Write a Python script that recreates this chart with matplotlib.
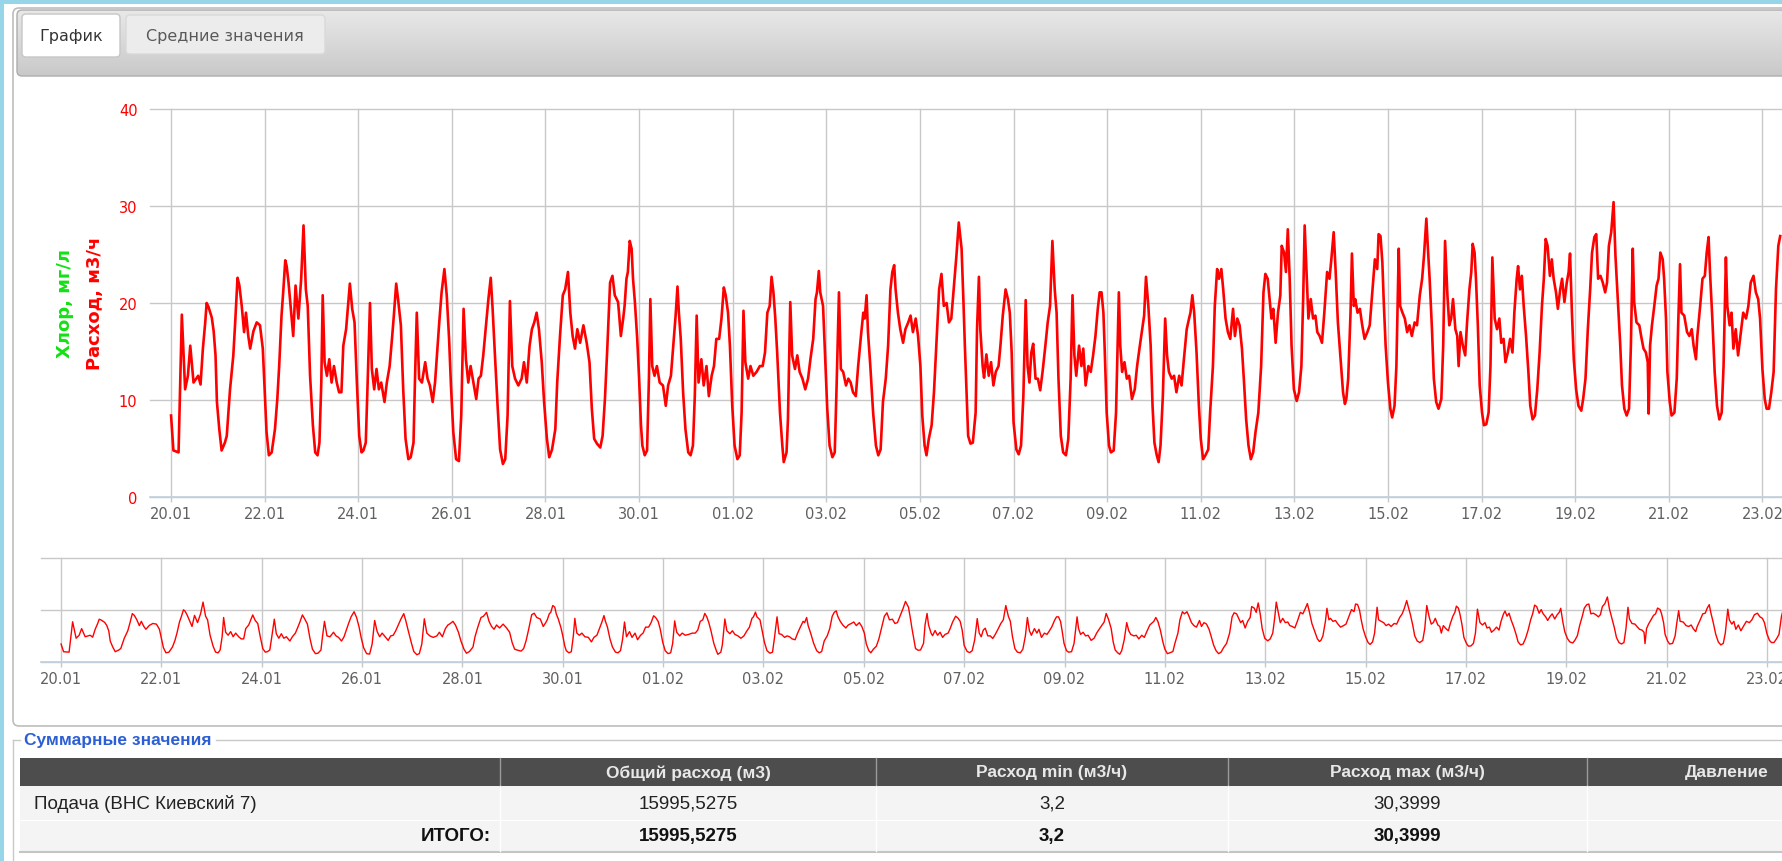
import matplotlib.pyplot as plt
import matplotlib.patches as mpatches
from matplotlib.colors import LinearSegmentedColormap
import numpy as np

# (days since 20.01 00:00, flow m3/h)
part_1 = [(0.00, 8.4), (0.05, 4.8), (0.16, 4.6), (0.23, 18.8), (0.30, 11.1), (0.36, 12.5), (0.41, 15.6),
          (0.48, 11.8), (0.58, 12.5), (0.63, 11.6), (0.68, 15.3), (0.73, 18.0), (0.76, 20.0), (0.80, 19.6),
          (0.87, 18.5), (0.91, 17.1), (0.95, 14.6), (0.98, 9.8), (1.03, 7.0), (1.08, 4.8), (1.15, 5.6),
          (1.19, 6.3), (1.26, 11.1), (1.33, 14.6), (1.37, 18.0), (1.42, 22.6), (1.46, 21.8), (1.51, 19.7),
          (1.56, 17.0), (1.60, 19.0), (1.65, 16.6), (1.69, 15.3), (1.76, 17.1), (1.83, 18.0), (1.90, 17.7),
          (1.96, 15.3), (2.01, 9.8), (2.04, 6.7), (2.09, 4.3), (2.15, 4.6), (2.22, 7.0), (2.27, 10.1),
          (2.31, 13.5), (2.36, 18.7), (2.40, 21.4), (2.44, 24.4), (2.47, 23.8), (2.51, 22.1), (2.56, 19.4),
          (2.61, 16.6), (2.66, 21.8), (2.72, 18.4), (2.78, 22.5), (2.83, 28.0), (2.88, 21.4), (2.92, 19.7),
          (2.97, 12.5), (3.03, 7.4), (3.08, 4.6), (3.13, 4.3), (3.17, 5.6), (3.21, 11.8), (3.24, 20.8),
          (3.28, 13.9), (3.33, 12.5), (3.38, 14.2), (3.43, 11.8), (3.48, 13.5), (3.54, 11.8), (3.59, 10.8),
          (3.64, 10.8), (3.68, 15.6), (3.74, 17.3), (3.78, 19.7), (3.82, 22.0), (3.87, 19.4), (3.92, 18.0),
          (3.97, 11.8), (4.02, 6.3), (4.07, 4.6), (4.11, 4.8), (4.16, 5.6), (4.20, 11.8), (4.25, 20.0),
          (4.29, 13.2), (4.34, 11.1), (4.39, 13.2), (4.44, 11.1), (4.49, 11.8), (4.56, 9.8), (4.61, 11.8),
          (4.67, 13.5), (4.72, 16.3), (4.76, 18.7), (4.81, 22.0), (4.85, 20.4), (4.91, 17.7), (4.96, 11.1)]

part_2 = [(5.01, 6.0), (5.07, 3.9), (5.12, 4.1), (5.18, 5.6), (5.21, 11.8), (5.25, 19.0), (5.30, 12.2),
          (5.36, 11.8), (5.43, 13.9), (5.48, 12.2), (5.53, 11.5), (5.59, 9.8), (5.64, 11.8), (5.69, 15.3),
          (5.73, 18.0), (5.78, 21.1), (5.84, 23.5), (5.89, 20.8), (5.94, 16.3), (5.98, 11.5), (6.03, 6.7),
          (6.09, 3.9), (6.15, 3.7), (6.20, 8.4), (6.25, 19.4), (6.30, 14.2), (6.35, 11.8), (6.40, 13.5),
          (6.46, 11.8), (6.52, 10.1), (6.57, 12.2), (6.62, 12.5), (6.67, 14.6), (6.73, 17.7), (6.78, 20.4),
          (6.83, 22.6), (6.87, 19.4), (6.92, 14.6), (6.98, 9.1), (7.03, 4.9), (7.09, 3.4), (7.14, 3.9),
          (7.19, 8.4), (7.24, 20.2), (7.29, 13.5), (7.35, 12.2), (7.42, 11.5), (7.49, 12.2), (7.54, 13.9),
          (7.60, 11.8), (7.66, 15.6), (7.71, 17.3), (7.76, 18.0), (7.81, 19.0), (7.86, 17.3), (7.92, 13.9),
          (7.97, 9.8), (8.03, 6.0), (8.08, 4.1), (8.14, 4.9), (8.21, 7.0), (8.25, 11.8), (8.31, 16.6),
          (8.37, 20.8), (8.42, 21.4), (8.48, 23.2), (8.53, 19.0), (8.58, 16.6), (8.63, 15.3), (8.68, 17.3),
          (8.74, 15.9), (8.81, 17.7), (8.88, 15.9), (8.94, 13.9), (8.99, 9.1), (9.04, 6.0), (9.10, 5.5),
          (9.17, 5.1), (9.22, 6.3), (9.27, 10.1), (9.32, 15.3), (9.38, 22.1), (9.43, 22.8), (9.48, 20.8),
          (9.55, 20.1), (9.57, 19.0), (9.61, 16.6), (9.66, 18.4), (9.69, 19.7), (9.73, 22.5), (9.76, 23.2),
          (9.80, 26.4), (9.84, 25.6), (9.87, 22.5), (9.91, 20.1), (9.96, 16.3)]

part_3 = [(10.00, 12.2), (10.04, 7.4), (10.07, 5.3), (10.12, 4.3), (10.17, 4.8), (10.21, 12.2), (10.24, 20.4),
          (10.28, 13.5), (10.33, 12.5), (10.38, 13.5), (10.44, 11.8), (10.51, 11.5), (10.57, 9.4), (10.62, 11.5),
          (10.68, 12.5), (10.73, 15.6), (10.78, 18.7), (10.82, 21.7), (10.85, 19.0), (10.89, 16.3), (10.94, 10.8),
          (10.99, 7.0), (11.05, 4.6), (11.10, 4.3), (11.15, 5.3), (11.19, 10.4), (11.23, 18.7), (11.27, 11.8),
          (11.33, 14.2), (11.38, 11.5), (11.44, 13.5), (11.49, 10.4), (11.55, 12.5), (11.60, 13.5), (11.65, 16.3),
          (11.71, 16.3), (11.76, 18.4), (11.81, 21.6), (11.85, 20.8), (11.90, 19.0), (11.94, 15.6), (11.99, 9.4),
          (12.04, 5.3), (12.10, 3.9), (12.15, 4.3), (12.19, 8.7), (12.23, 19.2), (12.27, 13.9), (12.33, 12.2),
          (12.38, 13.5), (12.44, 12.5), (12.51, 12.9), (12.58, 13.5), (12.64, 13.5), (12.69, 14.9), (12.74, 19.0),
          (12.79, 19.7), (12.83, 22.7), (12.87, 21.1), (12.91, 18.4), (12.95, 14.9), (13.01, 8.7), (13.06, 5.3),
          (13.09, 3.6), (13.15, 4.6), (13.18, 8.0), (13.23, 20.1), (13.27, 14.6), (13.33, 13.2), (13.38, 14.6),
          (13.43, 12.9), (13.49, 12.2), (13.55, 11.1), (13.61, 12.2), (13.66, 14.2), (13.72, 16.3), (13.77, 20.4),
          (13.80, 21.1), (13.84, 23.3), (13.87, 21.1), (13.93, 19.7), (13.98, 13.9), (14.02, 9.1), (14.07, 5.3),
          (14.13, 4.1), (14.18, 4.6), (14.22, 11.5), (14.27, 21.1), (14.31, 13.2), (14.36, 12.9), (14.42, 11.5),
          (14.47, 12.2), (14.52, 11.8), (14.57, 10.8), (14.63, 10.4), (14.68, 13.5), (14.74, 16.6), (14.79, 19.0),
          (14.82, 18.4), (14.86, 20.8), (14.89, 17.0), (14.94, 13.5)]

part_4 = [(15.00, 8.7), (15.06, 5.3), (15.11, 4.3), (15.16, 4.9), (15.21, 9.8), (15.27, 12.2), (15.32, 15.6),
          (15.37, 21.4), (15.41, 23.2), (15.45, 23.9), (15.48, 21.4), (15.53, 19.0), (15.58, 17.3), (15.64, 15.9),
          (15.69, 17.3), (15.75, 18.0), (15.80, 18.7), (15.85, 17.0), (15.91, 18.4), (15.96, 16.6), (16.01, 13.5),
          (16.05, 8.4), (16.10, 5.3), (16.14, 4.3), (16.19, 6.0), (16.25, 7.4), (16.30, 10.8), (16.35, 15.6),
          (16.41, 21.4), (16.46, 23.0), (16.51, 19.7), (16.57, 20.0), (16.62, 18.0), (16.67, 18.4), (16.72, 21.4),
          (16.78, 24.9), (16.83, 28.3), (16.89, 25.6), (16.93, 20.1), (16.96, 15.6), (17.00, 10.4), (17.03, 6.3),
          (17.08, 5.5), (17.13, 5.6), (17.19, 8.7), (17.22, 17.3), (17.26, 22.7), (17.29, 17.3), (17.34, 13.5),
          (17.37, 12.3), (17.42, 14.7), (17.47, 12.5), (17.52, 13.9), (17.57, 11.5), (17.62, 12.9), (17.68, 13.5),
          (17.72, 15.6), (17.77, 18.7), (17.83, 21.4), (17.88, 20.4), (17.92, 19.0), (17.96, 14.9), (18.00, 7.7),
          (18.06, 4.9), (18.11, 4.4), (18.16, 5.3), (18.21, 10.4), (18.26, 20.3), (18.30, 13.5), (18.34, 11.8),
          (18.38, 14.9), (18.42, 15.8), (18.47, 12.2), (18.52, 12.2), (18.57, 11.0), (18.62, 12.9), (18.68, 15.6),
          (18.73, 18.0), (18.78, 19.7), (18.83, 26.4), (18.88, 21.4), (18.92, 19.0), (18.96, 12.2), (19.01, 6.3),
          (19.06, 4.6), (19.12, 4.3), (19.17, 6.0), (19.22, 12.2), (19.26, 20.8), (19.30, 14.6), (19.34, 12.5),
          (19.40, 15.6), (19.45, 13.5), (19.49, 15.3), (19.54, 11.5), (19.60, 13.5), (19.65, 12.9), (19.70, 14.6),
          (19.75, 16.6), (19.80, 19.4), (19.84, 21.1), (19.88, 21.1), (19.92, 19.0), (19.95, 14.9)]

part_5 = [(19.99, 8.7), (20.04, 5.3), (20.08, 4.6), (20.14, 4.8), (20.19, 8.7), (20.25, 21.1), (20.28, 15.6),
          (20.32, 12.9), (20.37, 13.9), (20.42, 12.2), (20.47, 12.5), (20.53, 10.1), (20.59, 11.1), (20.64, 13.5),
          (20.69, 15.3), (20.74, 17.0), (20.79, 18.7), (20.83, 22.7), (20.88, 19.7), (20.93, 15.6), (20.97, 9.4),
          (21.01, 5.6), (21.06, 4.3), (21.10, 3.6), (21.14, 5.3), (21.19, 10.4), (21.24, 18.4), (21.28, 14.6),
          (21.32, 12.9), (21.38, 12.2), (21.43, 12.5), (21.48, 10.8), (21.54, 12.5), (21.59, 11.5), (21.64, 14.2),
          (21.70, 17.3), (21.75, 18.4), (21.78, 19.0), (21.82, 20.8), (21.86, 19.0), (21.91, 14.9), (21.96, 9.4),
          (22.00, 6.0), (22.05, 3.9), (22.10, 4.3), (22.16, 4.9), (22.20, 8.7), (22.26, 13.5), (22.30, 19.7),
          (22.35, 23.5), (22.39, 22.5), (22.44, 23.5), (22.48, 21.4), (22.53, 18.4), (22.58, 17.0), (22.63, 16.3),
          (22.69, 19.4), (22.73, 16.6), (22.78, 18.4), (22.83, 17.7), (22.88, 15.3), (22.92, 12.2), (22.97, 8.0),
          (23.02, 5.3), (23.07, 3.9), (23.12, 4.6), (23.17, 6.7), (23.23, 8.7), (23.29, 13.5), (23.34, 21.1),
          (23.38, 23.0), (23.43, 22.5), (23.47, 20.4), (23.51, 18.4), (23.55, 19.4), (23.60, 15.9), (23.65, 19.0),
          (23.70, 20.8), (23.73, 25.9), (23.78, 25.2), (23.82, 23.2), (23.86, 27.6), (23.90, 22.5), (23.94, 15.6),
          (23.99, 11.1), (24.05, 9.9), (24.10, 10.8), (24.15, 13.5), (24.19, 20.8), (24.22, 28.0), (24.26, 23.2),
          (24.30, 18.4), (24.35, 20.4), (24.40, 18.4), (24.45, 18.7), (24.49, 17.0), (24.54, 16.6), (24.59, 15.9),
          (24.64, 19.0), (24.70, 23.2), (24.75, 22.5), (24.79, 24.5), (24.84, 27.3), (24.88, 23.5), (24.93, 18.0)]

part_6 = [(25.00, 13.5), (25.04, 10.8), (25.08, 9.6), (25.11, 10.1), (25.15, 12.2), (25.20, 19.0), (25.23, 25.1),
          (25.27, 19.7), (25.30, 20.4), (25.35, 19.0), (25.40, 19.4), (25.45, 17.7), (25.50, 16.3), (25.56, 17.0),
          (25.61, 17.7), (25.66, 20.8), (25.72, 24.5), (25.77, 23.5), (25.80, 27.1), (25.84, 26.9), (25.88, 24.2),
          (25.91, 20.1), (25.95, 15.6), (26.00, 11.8), (26.05, 9.1), (26.09, 8.2), (26.14, 9.4), (26.18, 13.5),
          (26.23, 25.6), (26.26, 19.7), (26.31, 19.0), (26.36, 18.4), (26.41, 17.0), (26.46, 17.7), (26.51, 16.6),
          (26.57, 18.0), (26.62, 17.7), (26.68, 20.8), (26.73, 22.5), (26.77, 24.9), (26.82, 28.7), (26.85, 25.9),
          (26.89, 22.5), (26.94, 17.3), (26.98, 12.2), (27.03, 9.8), (27.08, 9.1), (27.14, 10.1), (27.18, 15.6),
          (27.22, 26.4), (27.27, 20.8), (27.31, 17.7), (27.35, 18.4), (27.39, 20.4), (27.44, 17.3), (27.48, 16.6),
          (27.51, 13.5), (27.55, 17.0), (27.60, 15.6), (27.65, 14.6), (27.69, 18.0), (27.74, 21.4), (27.78, 23.2),
          (27.81, 26.1), (27.85, 25.2), (27.88, 22.5), (27.92, 17.7), (27.96, 11.5), (28.01, 8.7), (28.05, 7.4),
          (28.10, 7.5), (28.15, 8.7), (28.19, 13.5), (28.23, 24.7), (28.28, 18.4), (28.33, 17.3), (28.38, 18.4),
          (28.42, 15.9), (28.47, 16.3), (28.51, 13.9), (28.56, 14.9), (28.61, 16.3), (28.66, 14.9), (28.70, 19.0),
          (28.75, 22.5), (28.78, 23.8), (28.82, 21.4), (28.86, 22.8), (28.90, 19.7), (28.95, 16.6), (29.00, 12.9),
          (29.04, 9.4), (29.09, 8.0), (29.14, 8.4), (29.19, 11.1), (29.24, 14.9), (29.29, 19.7), (29.33, 22.5),
          (29.37, 26.6), (29.41, 25.9), (29.46, 22.8), (29.50, 24.5), (29.54, 22.5), (29.59, 21.1), (29.63, 19.4),
          (29.68, 21.4), (29.72, 22.5), (29.77, 20.1), (29.82, 22.1), (29.86, 23.2), (29.89, 25.1), (29.93, 19.0),
          (29.97, 14.2)]

part_7 = [(30.02, 11.1), (30.07, 9.4), (30.13, 8.9), (30.17, 10.1), (30.22, 12.2), (30.27, 17.3), (30.32, 21.4),
          (30.36, 25.2), (30.41, 26.8), (30.45, 27.1), (30.49, 22.5), (30.54, 22.8), (30.59, 22.1), (30.64, 21.1),
          (30.68, 22.1), (30.72, 25.9), (30.77, 27.3), (30.82, 30.4), (30.86, 24.9), (30.91, 20.4), (30.96, 15.9),
          (31.00, 11.5), (31.05, 9.1), (31.10, 8.4), (31.15, 9.1), (31.19, 15.6), (31.23, 25.6), (31.26, 20.1),
          (31.31, 18.0), (31.37, 17.7), (31.42, 16.3), (31.46, 15.3), (31.51, 14.9), (31.55, 13.9), (31.57, 8.6),
          (31.60, 15.6), (31.64, 17.7), (31.69, 19.7), (31.74, 21.8), (31.78, 22.5), (31.82, 25.2), (31.87, 24.5),
          (31.90, 22.5), (31.94, 18.4), (31.97, 12.9), (32.02, 9.8), (32.06, 8.4), (32.12, 8.7), (32.17, 12.2),
          (32.20, 17.7), (32.24, 24.0), (32.27, 19.0), (32.33, 18.7), (32.39, 17.0), (32.44, 16.6), (32.49, 17.3),
          (32.53, 15.6), (32.58, 14.2), (32.61, 16.6), (32.67, 19.7), (32.72, 22.5), (32.77, 22.8), (32.81, 25.2),
          (32.85, 26.8), (32.88, 23.2), (32.93, 18.4), (32.98, 12.9), (33.03, 9.4), (33.08, 8.0), (33.13, 8.7),
          (33.17, 13.5), (33.22, 24.7), (33.25, 19.7), (33.30, 17.7), (33.34, 19.0), (33.38, 15.3), (33.43, 17.3),
          (33.48, 14.6), (33.54, 17.0), (33.59, 19.0), (33.65, 18.4), (33.70, 19.7), (33.75, 22.1), (33.81, 22.8),
          (33.86, 21.1), (33.91, 20.4), (33.95, 18.4), (34.00, 13.2), (34.05, 10.1), (34.09, 9.1), (34.14, 9.1),
          (34.19, 10.8), (34.24, 12.9), (34.29, 21.4), (34.34, 25.9), (34.38, 26.9)]

tick_days = list(range(0, 35, 2))
tick_labels = ['20.01', '22.01', '24.01', '26.01', '28.01', '30.01', '01.02', '03.02', '05.02',
               '07.02', '09.02', '11.02', '13.02', '15.02', '17.02', '19.02', '21.02', '23.02']
y_ticks = [0, 10, 20, 30, 40]

table_header = ['', 'Общий расход (м3)', 'Расход min (м3/ч)', 'Расход max (м3/ч)', 'Давление']
table_row = ['Подача (ВНС Киевский 7)', '15995,5275', '3,2', '30,3999', '']
table_total = ['ИТОГО:', '15995,5275', '3,2', '30,3999', '']

data = np.array(part_1 + part_2 + part_3 + part_4 + part_5 + part_6 + part_7)
days, flow = data[:, 0], data[:, 1]

W, H = 1783, 862
fig = plt.figure(figsize=(W / 100, H / 100), dpi=100, facecolor='white')

# page decoration in pixel coordinates
bg = fig.add_axes([0, 0, 1, 1])
bg.axis('off')

bg.add_patch(mpatches.Rectangle((0, 0), W, 5, color='#97d5e9', lw=0))
bg.add_patch(mpatches.Rectangle((0, 0), 4, H, color='#97d5e9', lw=0))

panel = mpatches.FancyBboxPatch((13, 9), W + 20, 718, boxstyle='round,pad=0,rounding_size=6',
                                fc='white', ec='#bdbdbd', lw=1.2, zorder=1)
bg.add_patch(panel)

# tab bar with a vertical gradient
bar = mpatches.FancyBboxPatch((17, 11), W + 20, 66, boxstyle='round,pad=0,rounding_size=5',
                              fc='none', ec='#adadad', lw=1, zorder=1.8)
bg.add_patch(bar)
grad_cmap = LinearSegmentedColormap.from_list('bar', ['#e8e8e8', '#c9c9c9'])
im = bg.imshow(np.linspace(0, 1, 64).reshape(-1, 1), extent=[17, W + 20, 77, 11],
               aspect='auto', cmap=grad_cmap, zorder=1.5)
im.set_clip_path(bar)

bg.add_patch(mpatches.FancyBboxPatch((22, 15), 98, 43, boxstyle='round,pad=0,rounding_size=4',
                                     fc='white', ec='#c6c6c6', lw=1, zorder=2))
bg.add_patch(mpatches.FancyBboxPatch((126, 16), 199, 39, boxstyle='round,pad=0,rounding_size=4',
                                     fc='#ececec', ec='#d9d9d9', lw=1, zorder=2))
bg.text(71, 37, 'График', ha='center', va='center', fontsize=11.5, color='#333333', zorder=3)
bg.text(225, 37, 'Средние значения', ha='center', va='center', fontsize=11.5, color='#595959', zorder=3)

# "Суммарные значения" fieldset
bg.plot([13, 20], [741, 741], color='#c8c8c8', lw=1)
bg.plot([216, W], [741, 741], color='#c8c8c8', lw=1)
bg.plot([13, 13], [741, H], color='#c8c8c8', lw=1)
bg.text(24, 741, 'Суммарные значения', ha='left', va='center', fontsize=12.5, fontweight='bold',
        family='Liberation Sans', color='#2c5fd2')

# summary table
col_edges = [20, 500, 876, 1228, 1587, 1867]
bg.add_patch(mpatches.Rectangle((20, 759), W, 28, fc='#4d4d4d', lw=0))
bg.add_patch(mpatches.Rectangle((20, 787), W, 34, fc='#f4f4f4', lw=0))
bg.add_patch(mpatches.Rectangle((20, 822), W, 30, fc='#f4f4f4', lw=0))
bg.plot([20, W], [853, 853], color='#c4c4c4', lw=1.5)
for x in col_edges[1:-1]:
    bg.plot([x, x], [759, 787], color='#9a9a9a', lw=1)
    bg.plot([x, x], [787, 852], color='white', lw=1)
for i in range(1, len(table_header)):
    cx = (col_edges[i] + col_edges[i + 1]) / 2
    bg.text(cx, 773, table_header[i], ha='center', va='center', fontsize=12.5, fontweight='bold',
            family='Liberation Sans', color='#e8e8e8')
    bg.text(cx, 804, table_row[i], ha='center', va='center', fontsize=13.5,
            family='Liberation Sans', color='#222222')
    bg.text(cx, 837, table_total[i], ha='center', va='center', fontsize=13.5, fontweight='bold',
            family='Liberation Sans', color='#111111')
bg.text(34, 804, table_row[0], ha='left', va='center', fontsize=13.5,
        family='Liberation Sans', color='#222222')
bg.text(491, 837, table_total[0], ha='right', va='center', fontsize=13.5, fontweight='bold',
        family='Liberation Sans', color='#111111')

bg.set_xlim(0, W)
bg.set_ylim(H, 0)


def style_axes(ax):
    for s in ['left', 'right', 'top']:
        ax.spines[s].set_visible(False)
    ax.spines['bottom'].set_color('#c0d0e0')
    ax.spines['bottom'].set_linewidth(1.2)
    ax.set_facecolor('none')
    ax.grid(True, color='#c8c8c8', lw=1)
    ax.set_axisbelow(True)
    ax.set_xticks(tick_days)
    ax.set_xticklabels(tick_labels)
    ax.tick_params(axis='x', length=3.5, width=1, color='#c8c8c8', labelcolor='#606060',
                   labelsize=10.5, pad=3)
    for gl in ax.get_xgridlines() + ax.get_ygridlines():
        gl.set_clip_on(False)


# main chart
ax = fig.add_axes([150 / W, (H - 498) / H, (W - 150) / W, 388 / H])
ax.plot(days, flow, color='#ff0000', lw=1.9, solid_joinstyle='round')
ax.set_xlim(-0.45, 34.44)
ax.set_ylim(0, 40)
style_axes(ax)
ax.set_yticks(y_ticks)
ax.tick_params(axis='y', length=0, labelcolor='#ff0000', labelsize=10.5, pad=9)

fig.text(95 / W, 1 - 303 / H, 'Расход, м3/ч', rotation=90, ha='center', va='center',
         fontsize=13, fontweight='bold', color='#ff0000')
fig.text(65 / W, 1 - 303 / H, 'Хлор, мг/л', rotation=90, ha='center', va='center',
         fontsize=13, fontweight='bold', color='#14e014')

# navigator
nav = fig.add_axes([41 / W, (H - 663) / H, (W - 41) / W, 104 / H])
nav.plot(days, flow, color='#ff0000', lw=1.0)
nav.set_xlim(-0.40, 34.32)
nav.set_ylim(0, 48.6)
style_axes(nav)
nav.set_yticks([0, 24.3, 48.6])
nav.tick_params(axis='y', length=0, labelleft=False)
for gl in nav.get_ygridlines():
    gl.set_clip_on(False)

fig.savefig('out.png', dpi=100, facecolor=fig.get_facecolor())
